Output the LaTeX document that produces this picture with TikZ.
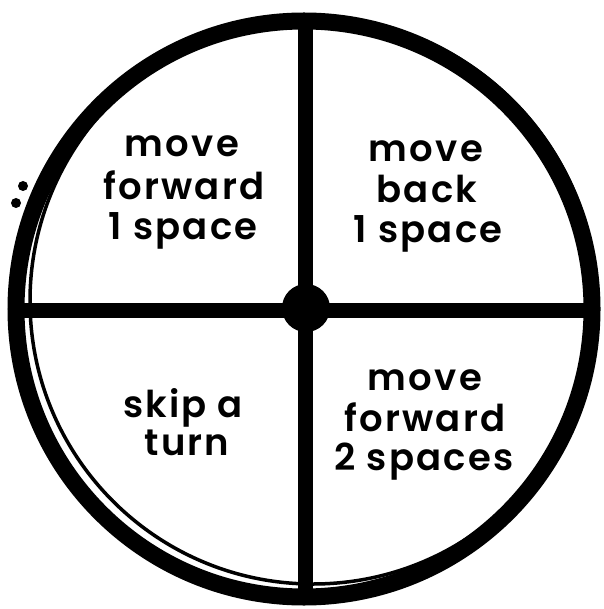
\documentclass[tikz,border=0pt]{standalone}
\usepackage{fontspec}
\setmainfont{Poppins}[BoldFont={Poppins SemiBold},LetterSpace=6]
\begin{document}
\begin{tikzpicture}[x=1pt,y=-1pt,
  lbl/.style={anchor=base,inner sep=0pt,font=\fontsize{37}{41}\selectfont\bfseries},
  rim/.style={draw=black,line width=17pt},
  thinrim/.style={draw=black,line width=3.5pt},
  bar/.style={draw=black,line width=15pt}]
\useasboundingbox (0,0) rectangle (603,609);
\coordinate (c) at (304,309);
\begin{scope}
\clip (c) circle (290);
\draw[bar] (305,0) -- (305,609);
\draw[bar] (0,310) -- (603,310);
\end{scope}
\draw[rim] (c) circle (288);
\draw[thinrim] (313,301) circle (283);
\fill (306,308) circle (24);
\fill (23,186) circle (5);
\fill (16,203) circle (5);
% top-left
\node[lbl] (tl1) at (182,157) {move};
\node[lbl] (tl2) at (184,200) {forward};
\node[lbl] (tl3) at (183,240) {1 space};
% top-right
\node[lbl] (tr1) at (426,162) {move};
\node[lbl] (tr2) at (427,203) {back};
\node[lbl] (tr3) at (428,243) {1 space};
% bottom-left
\node[lbl] (bl1) at (183,417) {skip a};
\node[lbl] (bl2) at (187,455) {turn};
% bottom-right
\node[lbl] (br1) at (425,390) {move};
\node[lbl] (br2) at (425,431) {forward};
\node[lbl] (br3) at (424,470) {2 spaces};
\end{tikzpicture}
\end{document}
